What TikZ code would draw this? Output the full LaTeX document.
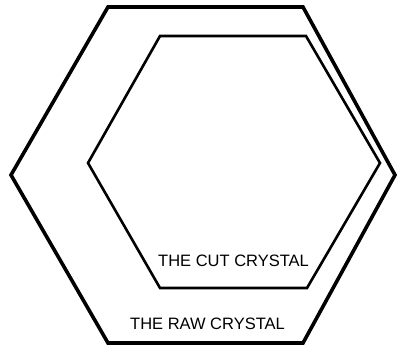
\documentclass[tikz,border=0pt]{standalone}
\usepackage{fontspec}
\setmainfont{Liberation Sans}
\begin{document}
\begin{tikzpicture}[x=1pt,y=-1pt,
  outerhex/.style={line width=3.6pt,line join=miter},
  innerhex/.style={line width=2.6pt,line join=miter},
  lbl/.style={font=\fontsize{16.5}{18}\selectfont,inner sep=0pt,anchor=base west}]
\useasboundingbox (0,0) rectangle (399,350);
\draw[outerhex] (108,7) -- (303,7) -- (395,175) -- (303,343) -- (108,343) -- (11,175) -- cycle;
\draw[innerhex] (160,36) -- (306,36) -- (380,163) -- (307,288) -- (160,288) -- (88,163) -- cycle;
\node[lbl] (cut) at (158,266) {THE CUT CRYSTAL};
\node[lbl] (raw) at (130,329) {THE RAW CRYSTAL};
\end{tikzpicture}
\end{document}
